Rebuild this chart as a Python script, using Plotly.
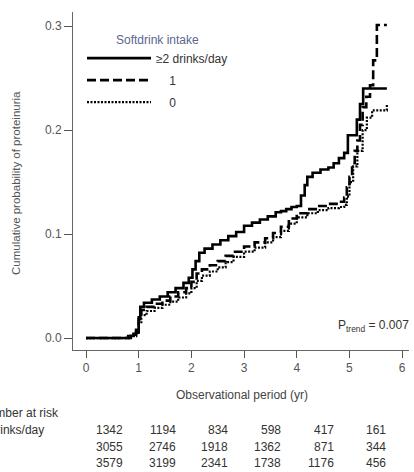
import plotly.graph_objects as go

# ---- data ----
x_hi = [0, 0.8, 0.9, 0.95, 1.0, 1.03, 1.1, 1.25, 1.4, 1.55, 1.7, 1.85, 1.95, 2.02, 2.08, 2.15, 2.25, 2.4, 2.55,
        2.7, 2.85, 3.0, 3.15, 3.3, 3.45, 3.6, 3.7, 3.8, 3.9, 4.0, 4.08, 4.15, 4.2, 4.3, 4.45, 4.6, 4.7, 4.8,
        4.9, 4.97, 5.14, 5.2, 5.26, 5.71]
y_hi = [0, 0.002, 0.004, 0.008, 0.02, 0.03, 0.034, 0.037, 0.040, 0.044, 0.048, 0.053, 0.058, 0.066, 0.074,
        0.082, 0.086, 0.090, 0.094, 0.098, 0.102, 0.108, 0.111, 0.114, 0.117, 0.121, 0.122, 0.124, 0.126,
        0.127, 0.137, 0.147, 0.155, 0.159, 0.162, 0.164, 0.168, 0.173, 0.178, 0.195, 0.21, 0.225, 0.24, 0.24]

x_one = [0, 0.85, 0.95, 1.0, 1.05, 1.15, 1.3, 1.45, 1.6, 1.75, 1.9, 2.0, 2.1, 2.2, 2.35, 2.5, 2.65, 2.8, 3.0,
         3.2, 3.4, 3.55, 3.7, 3.85, 4.0, 4.2, 4.4, 4.6, 4.8, 4.9, 4.95, 5.0, 5.05, 5.1, 5.15, 5.2, 5.25, 5.32,
         5.39, 5.45, 5.52, 5.71]
y_one = [0, 0.002, 0.006, 0.018, 0.027, 0.030, 0.033, 0.036, 0.040, 0.044, 0.048, 0.054, 0.062, 0.066, 0.070,
         0.074, 0.079, 0.083, 0.088, 0.092, 0.096, 0.101, 0.107, 0.115, 0.12, 0.124, 0.127, 0.129, 0.131,
         0.135, 0.145, 0.155, 0.168, 0.18, 0.19, 0.205, 0.222, 0.232, 0.243, 0.267, 0.301, 0.301]

x_zero = [0, 0.85, 0.95, 1.0, 1.05, 1.15, 1.3, 1.45, 1.6, 1.75, 1.9, 2.0, 2.1, 2.2, 2.35, 2.5, 2.65, 2.8, 3.0,
          3.2, 3.4, 3.55, 3.7, 3.85, 4.0, 4.2, 4.4, 4.6, 4.8, 4.9, 4.95, 5.0, 5.07, 5.15, 5.25, 5.33, 5.43, 5.71]
y_zero = [0, 0.002, 0.005, 0.014, 0.022, 0.026, 0.029, 0.032, 0.035, 0.039, 0.043, 0.048, 0.055, 0.06, 0.064,
          0.068, 0.073, 0.078, 0.083, 0.087, 0.092, 0.097, 0.103, 0.11, 0.116, 0.12, 0.123, 0.125, 0.126,
          0.128, 0.136, 0.15, 0.165, 0.18, 0.2, 0.212, 0.219, 0.224]

group_names = ["≥2 drinks/day", "1", "0"]
risk_labels = ["≥2 drinks/day", "", ""]
risk_hi = [1342, 1194, 834, 598, 417, 161]
risk_one = [3055, 2746, 1918, 1362, 871, 344]
risk_zero = [3579, 3199, 2341, 1738, 1176, 456]
risk_cols = [0, 1, 2, 3, 4, 5]
x_ticks = [0, 1, 2, 3, 4, 5, 6]
y_ticks = [0.0, 0.1, 0.2, 0.3]

# ---- layout geometry ----
W, H = 414, 472
L, R, T, B = 73, 5, 12, 122
pw = W - L - R
ph = H - T - B


def px_to_paper(px):
    return (px - L) / pw


def py_to_paper(py):
    return (H - B - py) / ph


fig = go.Figure()
styles = [dict(dash="solid", width=2.6), dict(dash="9px,4px", width=2.6), dict(dash="2px,1.5px", width=2.2)]
for i, (xs, ys) in enumerate([(x_hi, y_hi), (x_one, y_one), (x_zero, y_zero)]):
    fig.add_trace(go.Scatter(x=xs, y=ys, mode="lines", line_shape="hv",
                             line=dict(color="black", **styles[i]),
                             name=group_names[i] if i == 0 else "\u00a0\u00a0\u00a0\u00a0" + group_names[i],
                             legendgroup=str(i)))

fig.update_layout(
    width=W, height=H, margin=dict(l=L, r=R, t=T, b=B, autoexpand=False),
    paper_bgcolor="white", plot_bgcolor="white",
    font=dict(family="Liberation Sans, Arial", size=12, color="#444"),
    showlegend=True,
    legend=dict(x=px_to_paper(82), y=py_to_paper(28), xanchor="left", yanchor="top", bgcolor="rgba(0,0,0,0)",
                title=dict(text="Softdrink intake", side="top center",
                           font=dict(color="#5a6690", size=12)),
                font=dict(color="#333", size=12), itemwidth=64, tracegroupgap=3,
                traceorder="grouped"),
    xaxis=dict(range=[-0.247, 6.13], tickvals=x_ticks, ticks="outside", ticklen=7, tickcolor="#555",
               showline=True, linecolor="#666", linewidth=1, showgrid=False, zeroline=False,
               tickfont=dict(size=12, color="#555"), automargin=False),
    yaxis=dict(range=[-0.0115, 0.3135], tickvals=y_ticks, tickformat=".1f", ticks="outside", ticklen=8,
               tickcolor="#555", showline=True, linecolor="#666", linewidth=1, showgrid=False,
               zeroline=False, tickfont=dict(size=12, color="#555"), automargin=False),
)

# axis titles
fig.add_annotation(xref="paper", yref="paper", x=px_to_paper(242), y=py_to_paper(395), xanchor="center",
                   yanchor="middle", text="Observational period (yr)", showarrow=False,
                   font=dict(size=12, color="#444"))
fig.add_annotation(xref="paper", yref="paper", x=px_to_paper(16), y=py_to_paper(183), xanchor="center",
                   yanchor="middle", text="Cumulative probability of proteinuria", textangle=-90,
                   showarrow=False, font=dict(size=11.5, color="#555"))

fig.add_annotation(xref="paper", yref="y", x=px_to_paper(411), y=0.012, xanchor="right", yanchor="middle",
                   text="P<sub>trend</sub> = 0.007", showarrow=False, font=dict(size=12, color="#333"))

fig.add_annotation(xref="paper", yref="paper", x=px_to_paper(-22), y=py_to_paper(413), xanchor="left",
                   yanchor="middle", text="Number at risk", showarrow=False, font=dict(size=12, color="#333"))
rows = [risk_hi, risk_one, risk_zero]
row_y = [430, 447, 463]
for r, vals in enumerate(rows):
    if risk_labels[r]:
        fig.add_annotation(xref="paper", yref="paper", x=px_to_paper(46), y=py_to_paper(row_y[r]),
                           xanchor="right", yanchor="middle", text=risk_labels[r], showarrow=False,
                           font=dict(size=12, color="#333"))
    for c, v in zip(risk_cols, vals):
        fig.add_annotation(xref="x", yref="paper", x=c + 0.74, y=py_to_paper(row_y[r]),
                           xanchor="right", yanchor="middle", text=str(v), showarrow=False,
                           font=dict(size=12, color="#333"))

fig.write_html("out.html", config={"displayModeBar": False},
               post_script="document.body.style.margin='0px';document.body.style.padding='0px';")
